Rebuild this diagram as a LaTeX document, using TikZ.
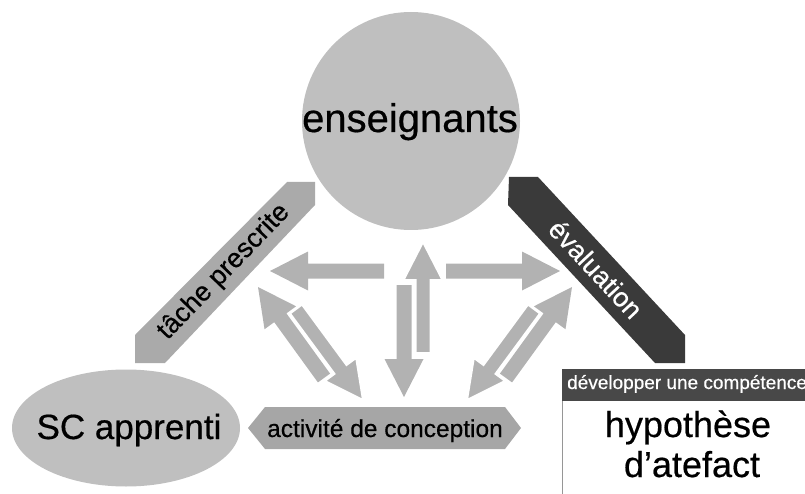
\documentclass[tikz,border=0pt]{standalone}
\usepackage{fontspec}
\setmainfont{Liberation Sans}[FakeBold=0.5]
\usetikzlibrary{calc,shapes.geometric}
\definecolor{nodegray}{RGB}{191,191,191}
\definecolor{arrgray}{RGB}{178,178,178}
\definecolor{bandgray}{RGB}{170,170,170}
\definecolor{hexgray}{RGB}{166,166,166}
\definecolor{darkband}{RGB}{58,58,58}
\definecolor{hdrgray}{RGB}{72,72,72}
\definecolor{boxline}{RGB}{150,150,150}
\newcommand{\fs}[1]{\fontsize{#1}{#1}\selectfont}
\newcommand{\sw}{7.5pt}
\newcommand{\hw}{19.5pt}
\newcommand{\hl}{38pt}
% #1 style, #2 name, #3 tail, #4 tip
\newcommand{\blockarrow}[4][]{%
  \coordinate (#2-h) at ($(#4)!\hl!(#3)$);
  \path[#1] ($(#3)!\sw!90:(#4)$) -- ($(#2-h)!\sw!-90:(#3)$) -- ($(#2-h)!\hw!-90:(#3)$)
    -- (#4) -- ($(#2-h)!\hw!90:(#3)$) -- ($(#2-h)!\sw!90:(#3)$) -- ($(#3)!\sw!-90:(#4)$) -- cycle;
}
\tikzset{
  txt/.style={inner sep=0pt, anchor=base},
  arr/.style={fill=arrgray},
  arrtop/.style={fill=arrgray, draw=white, line width=2pt, line join=miter},
}
\begin{document}
\begin{tikzpicture}[x=1pt,y=-1pt]
\useasboundingbox (0,0) rectangle (805,494);
\clip (0,0) rectangle (805,494);

% main shapes
\node[circle, fill=nodegray, minimum size=218pt, inner sep=0pt] (ens) at (411,121) {};
\node[txt, font=\fs{40}] (enst) at (410,132) {enseignants};

\node[ellipse, fill=nodegray, minimum width=228pt, minimum height=117pt, inner sep=0pt] (sc) at (126,428) {};
\node[txt, font=\fs{35}] (sct) at (129,439) {SC apprenti};

% activity hexagon
\fill[hexgray] (248,428) -- (265,407) -- (505,407) -- (521,428) -- (505,449) -- (265,449) -- cycle;
\node[txt, font=\fs{24.5}] (act) at (385,437) {activité de conception};

% bands
\fill[bandgray] (287,182) -- (315,182) -- (315,205) -- (165,363) -- (135,363) -- (135,335) -- cycle;
\node[inner sep=0pt, rotate=46, font=\fs{27}] (tache) at (224,272) {tâche prescrite};

\fill[darkband] (509,177) -- (538,177) -- (685,335) -- (685,363) -- (655,363) -- (508,205) -- cycle;
\node[inner sep=0pt, rotate=-47, font=\fs{27}, text=white] (eval) at (596,269) {évaluation};

% right box
\draw[boxline, line width=1pt, fill=white] (562,369) rectangle (830,520);
\fill[hdrgray] (562,369) rectangle (830,401);
\node[inner sep=0pt, anchor=base west, font=\fs{19}, text=white] (hdr) at (567,389) {développer une compétence};
\node[txt, font=\fs{36}] (hyp1) at (688,437) {hypothèse};
\node[txt, font=\fs{36}] (hyp2) at (692,477) {d’atefact};

% arrow end points
\coordinate (hlT) at (384,271); \coordinate (hlP) at (270,271);
\coordinate (hrT) at (446,271); \coordinate (hrP) at (560,271);
\coordinate (vuT) at (423,353); \coordinate (vuP) at (423,242);
\coordinate (vdT) at (404,285); \coordinate (vdP) at (404,397);
\coordinate (daT) at (324,378); \coordinate (daP) at (258,287);
\coordinate (dbT) at (296,309); \coordinate (dbP) at (363,400);
\coordinate (dcT) at (506,378); \coordinate (dcP) at (572,287);
\coordinate (ddT) at (534,309); \coordinate (ddP) at (467,400);

\blockarrow[arr]{hl}{hlT}{hlP}
\blockarrow[arr]{hr}{hrT}{hrP}
\blockarrow[arr]{vd}{vdT}{vdP}
\blockarrow[arr]{da}{daT}{daP}
\blockarrow[arr]{dc}{dcT}{dcP}
\blockarrow[arrtop]{vu}{vuT}{vuP}
\blockarrow[arrtop]{db}{dbT}{dbP}
\blockarrow[arrtop]{dd}{ddT}{ddP}
\end{tikzpicture}
\end{document}
